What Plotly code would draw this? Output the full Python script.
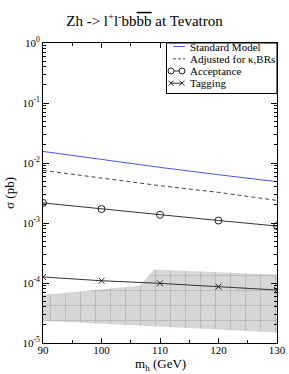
import plotly.graph_objects as go

mass = [90, 100, 110, 120, 130]
sm_xsec = [0.0156, 0.01135, 0.00845, 0.00638, 0.00488]
adjusted_xsec = [0.00753, 0.00562, 0.00419, 0.00324, 0.00238]
acceptance_xsec = [0.00216, 0.00171, 0.00137, 0.00110, 0.00089]
tagging_xsec = [1.26e-4, 1.09e-4, 9.85e-5, 8.68e-5, 7.64e-5]

band_upper_mass = [90, 106.5, 109, 130]
band_upper = [6.3e-5, 9.0e-5, 1.68e-4, 1.37e-4]
band_lower_mass = [130, 90]
band_lower = [1.5e-5, 2.35e-5]

ytick_vals = [1e-5, 1e-4, 1e-3, 1e-2, 1e-1, 1]
ytick_text = ["10<sup>-5</sup>", "10<sup>-4</sup>", "10<sup>-3</sup>",
              "10<sup>-2</sup>", "10<sup>-1</sup>", "10<sup>0</sup>"]

legend_labels = ["Standard Model", "Adjusted for \u03ba,BRs", "Acceptance", "Tagging"]

FONT = "Liberation Serif"
SM_COLOR = "#5050ff"
DARK = "#333333"

fig = go.Figure()

fig.add_trace(go.Scatter(
    x=band_upper_mass + band_lower_mass,
    y=band_upper + band_lower,
    mode="lines", fill="toself", line=dict(width=0, color="rgba(0,0,0,0)"),
    fillcolor="#d6d6d6",
    fillpattern=dict(shape="+", size=15, solidity=0.1, fgcolor="#909090",
                     bgcolor="#d6d6d6", fillmode="overlay"),
    showlegend=False, hoverinfo="skip"))

fig.add_trace(go.Scatter(x=mass, y=sm_xsec, mode="lines", name=legend_labels[0],
                         line=dict(color=SM_COLOR, width=1)))
fig.add_trace(go.Scatter(x=mass, y=adjusted_xsec, mode="lines", name=legend_labels[1],
                         line=dict(color="#444444", width=1, dash="4px,3px")))
fig.add_trace(go.Scatter(x=mass, y=acceptance_xsec, mode="lines+markers", name=legend_labels[2],
                         line=dict(color=DARK, width=1),
                         marker=dict(symbol="circle-open", size=7, color="#222222",
                                     line=dict(width=1))))
fig.add_trace(go.Scatter(x=mass, y=tagging_xsec, mode="lines+markers", name=legend_labels[3],
                         line=dict(color=DARK, width=1),
                         marker=dict(symbol="x-thin-open", size=6, color="#222222",
                                     line=dict(width=1, color="#222222"))))

# ---- custom compact legend (paper coordinates) ----
PW, PH, L, T = 234.0, 300.0, 43.0, 43.0
def px(xp):
    return (xp - L) / PW
def py(yp):
    return 1 - (yp - T) / PH

shapes = [dict(type="rect", xref="paper", yref="paper",
               x0=px(166.5), x1=1, y0=py(93.5), y1=1,
               line=dict(color="black", width=1), fillcolor="white", layer="above")]
annotations = []
rows = [46.5, 58.8, 71.0, 83.2]
for lbl, ry in zip(legend_labels, rows):
    annotations.append(dict(text=lbl, xref="paper", yref="paper", x=px(188), y=py(ry),
                            xanchor="left", yanchor="middle", showarrow=False,
                            font=dict(family=FONT, size=11, color="black")))
# SM line sample
shapes.append(dict(type="line", xref="paper", yref="paper", x0=px(173), x1=px(185),
                   y0=py(rows[0]), y1=py(rows[0]), line=dict(color=SM_COLOR, width=1), layer="above"))
# adjusted dashed sample
shapes.append(dict(type="line", xref="paper", yref="paper", x0=px(173), x1=px(185),
                   y0=py(rows[1]), y1=py(rows[1]), line=dict(color="#444444", width=1, dash="3px,2px"),
                   layer="above"))
# acceptance sample: line + circles
shapes.append(dict(type="line", xref="paper", yref="paper", x0=px(171), x1=px(182),
                   y0=py(rows[2]), y1=py(rows[2]), line=dict(color=DARK, width=1), layer="above"))
for cx in (171, 182):
    shapes.append(dict(type="circle", xref="paper", yref="paper", xsizemode="pixel", ysizemode="pixel",
                       xanchor=px(cx), yanchor=py(rows[2]), x0=-3, x1=3, y0=-3, y1=3,
                       line=dict(color="#222222", width=1), fillcolor="white", layer="above"))
# tagging sample: line + x marks
shapes.append(dict(type="line", xref="paper", yref="paper", x0=px(171), x1=px(182),
                   y0=py(rows[3]), y1=py(rows[3]), line=dict(color=DARK, width=1), layer="above"))
for cx in (171, 182):
    for d in (1, -1):
        shapes.append(dict(type="line", xref="paper", yref="paper", xsizemode="pixel", ysizemode="pixel",
                           xanchor=px(cx), yanchor=py(rows[3]), x0=-2.5, x1=2.5, y0=-2.5 * d, y1=2.5 * d,
                           line=dict(color="#222222", width=1), layer="above"))

# x-axis title as annotation to control its position
annotations.append(dict(text="m<sub>h</sub> (GeV)", xref="paper", yref="paper", x=0.5, y=py(364),
                        xanchor="center", yanchor="middle", showarrow=False,
                        font=dict(family=FONT, size=13, color="black")))

fig.update_layout(
    width=289, height=374,
    margin=dict(l=43, r=12, t=43, b=31),
    paper_bgcolor="white", plot_bgcolor="white",
    font=dict(family=FONT, color="black", size=11),
    title=dict(text="Zh -> l<sup>+</sup>l<sup>-</sup>bb<span style='text-decoration:overline'>bb</span> at Tevatron",
               x=0.5, xanchor="center", y=0.945, yanchor="middle",
               font=dict(family=FONT, size=15, color="black")),
    showlegend=False,
    shapes=shapes,
    annotations=annotations,
)

fig.update_xaxes(
    range=[90, 130], showgrid=False, zeroline=False,
    showline=True, linecolor="black", linewidth=1, mirror="ticks",
    ticks="inside", ticklen=5, tickcolor="black", dtick=10, tick0=90,
    minor=dict(ticks="inside", ticklen=3, dtick=5, tickcolor="black", showgrid=False),
    tickfont=dict(family=FONT, size=11, color="black"),
    ticklabelstandoff=-3,
    automargin=False,
)

fig.update_yaxes(
    type="log", range=[-5, 0], showgrid=False, zeroline=False,
    showline=True, linecolor="black", linewidth=1, mirror="ticks",
    ticks="inside", ticklen=6, tickcolor="black",
    tickvals=ytick_vals, ticktext=ytick_text,
    minor=dict(ticks="inside", ticklen=3, tickcolor="black", showgrid=False,
               tickvals=[m * 10**e for e in range(-5, 0) for m in range(2, 10)]),
    tickfont=dict(family=FONT, size=11, color="black"),
    title=dict(text="\u03c3 (pb)", font=dict(family=FONT, size=13, color="black"), standoff=4),
    automargin=False,
)

fig.write_html("out.html", config={"displayModeBar": False},
               post_script="document.body.style.margin='0';document.body.style.padding='0';")
